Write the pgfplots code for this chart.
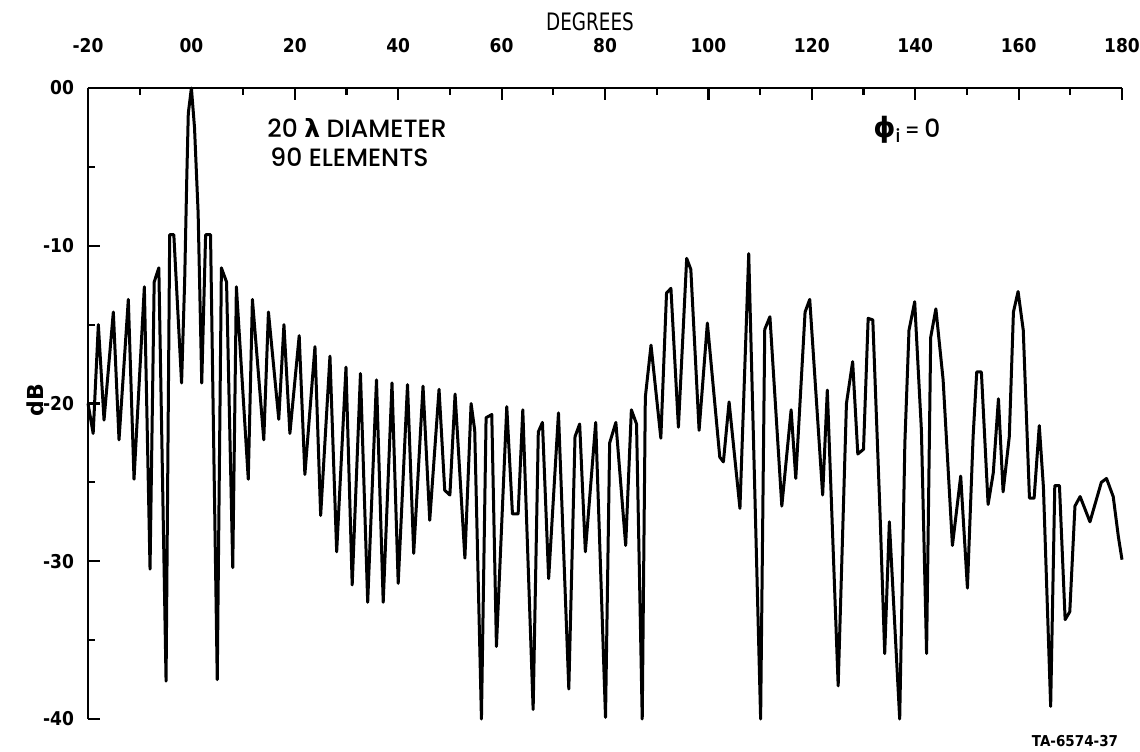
\documentclass[border=0pt]{standalone}
\usepackage{pgfplots}
\pgfplotsset{compat=1.18}
\usepackage{fontspec}
\setmainfont{DejaVu Sans}
\newfontfamily\condfont{DejaVu Sans Condensed}
\newfontfamily\annfont{Poppins Medium}
\newfontfamily\greekfont{DejaVu Sans}

\begin{document}
\begin{tikzpicture}
% 1 px of the reference = 0.5pt; axis box 1034 x 631 px
\useasboundingbox (-44pt,-16pt) rectangle (526pt,359.5pt);
\begin{axis}[
  at={(0pt,0pt)}, anchor=south west,
  scale only axis, width=517pt, height=315.5pt,
  xmin=-20, xmax=180, ymin=-40, ymax=0,
  axis x line=top, axis y line=left,
  axis line style={-, line width=1.4pt},
  tick align=inside,
  xtick={-20,0,...,180},
  xticklabels={-20,00,20,40,60,80,100,120,140,160,180},
  ytick={-40,-30,...,0},
  yticklabels={-40,-30,-20,-10,00},
  minor x tick num=1, minor y tick num=1,
  major tick length=6pt, minor tick length=3.5pt,
  every tick/.style={black, line width=1.1pt},
  tick label style={font=\condfont\bfseries\fontsize{9.5}{10}\selectfont},
  xticklabel style={yshift=14pt},
  yticklabel style={xshift=-3.5pt},
  clip=false,
]
\addplot[black, line width=1.5pt, line join=round, mark=none, sharp plot] coordinates {
(-20,-20.0) (-19.0,-21.9) (-18.0,-15.0) (-16.9,-21.05) (-15.1,-14.2)
(-14.0,-22.3) (-12.2,-13.4) (-11.1,-24.8) (-9.1,-12.6) (-8.0,-30.5)
(-7.2,-12.3) (-6.3,-11.4) (-4.9,-37.6) (-4.2,-9.3) (-3.4,-9.3)
(-1.9,-18.7) (-1.3,-12.2) (-0.9,-5.8) (-0.6,-1.6) (0.0,0)
(0.6,-2.5) (1.3,-7.9) (2.0,-18.7) (2.75,-9.3) (3.7,-9.3)
(5.0,-37.5) (5.8,-11.4) (6.8,-12.3) (8.0,-30.4) (8.7,-12.6)
(11.0,-24.8) (11.8,-13.4) (14.0,-22.3) (14.9,-14.2) (16.9,-21.0)
(17.9,-15.0) (19.05,-21.9) (20.85,-15.7) (21.95,-24.5) (23.9,-16.4)
(25.0,-27.1) (26.8,-17.0) (28.1,-29.4) (29.9,-17.7) (31.1,-31.5)
(32.7,-18.1) (34.1,-32.6) (35.8,-18.5) (37.1,-32.6) (38.8,-18.7)
(40.0,-31.4) (41.8,-18.8) (43.0,-29.5) (44.8,-18.9) (46.1,-27.4)
(47.9,-19.1) (49.0,-25.5) (50.0,-25.8) (51.0,-19.4) (52.9,-29.8)
(54.1,-20.0) (54.8,-21.7) (56.1,-40.0) (57.0,-20.9) (58.1,-20.7)
(59.0,-35.4) (61.0,-20.2) (62.1,-27.0) (63.2,-27.0) (64.1,-20.4)
(66.1,-39.4) (67.1,-21.8) (67.9,-21.2) (69.1,-31.1) (71.0,-20.6)
(73.0,-38.1) (74.2,-22.1) (75.1,-21.3) (76.2,-29.4) (78.2,-21.2)
(80.1,-39.9) (80.9,-22.5) (82.1,-21.2) (84.0,-29.0) (85.1,-20.4)
(86.1,-21.3) (87.2,-40.0) (87.8,-19.6) (88.9,-16.3) (90.8,-22.2)
(91.9,-13.0) (92.75,-12.7) (94.2,-21.5) (95.8,-10.8) (96.6,-11.5)
(98.2,-21.7) (99.8,-14.9) (102.2,-23.4) (102.9,-23.7) (104.0,-19.9)
(106.1,-26.65) (107.8,-10.5) (110.1,-40.0) (110.9,-15.3) (111.9,-14.5)
(114.2,-26.5) (116.0,-20.4) (116.9,-24.75) (118.7,-14.2) (119.6,-13.4)
(122.1,-25.8) (123.0,-19.15) (125.1,-37.9) (126.7,-20.0) (127.9,-17.35)
(128.9,-23.2) (130.0,-22.9) (130.9,-14.6) (131.8,-14.7) (133.2,-27.0)
(134.1,-35.85) (135.0,-27.5) (137.0,-40.0) (138.0,-22.5) (138.8,-15.35)
(139.9,-13.55) (141.2,-21.7) (142.2,-35.85) (143.0,-15.8) (144.0,-14.0)
(145.4,-18.5) (147.2,-29.0) (148.8,-24.6) (150.1,-31.7) (151.2,-22.1)
(151.9,-18.0) (152.8,-18.0) (154.1,-26.4) (155.1,-24.4) (156.1,-19.7)
(157.0,-25.6) (158.2,-22.1) (159.0,-14.2) (159.9,-12.9) (160.9,-15.35)
(162.1,-26.0) (163.0,-26.0) (164.0,-21.4) (164.8,-25.3) (166.2,-39.2)
(167.0,-25.2) (167.9,-25.2) (169.0,-33.7) (169.9,-33.2) (170.9,-26.5)
(171.9,-25.9) (173.8,-27.5) (176.0,-25.0) (177.0,-24.75) (178.3,-25.9)
(179.3,-28.45) (180.0,-29.9)
};
\end{axis}
% titles and notes
\node[font=\condfont\fontsize{12}{14}\selectfont, xscale=0.85] at (251pt,348.5pt) {DEGREES};
\node[font=\bfseries\fontsize{11}{12}\selectfont, rotate=90] at (-26.5pt,159.5pt) {dB};
\node[font=\annfont\fontsize{12.5}{14}\selectfont, anchor=west, inner sep=0pt] at (89.5pt,295.5pt) {20 {\greekfont\bfseries λ} DIAMETER};
\node[font=\annfont\fontsize{12.5}{14}\selectfont, anchor=west, inner sep=0pt] at (91pt,281pt) {90 ELEMENTS};
\node[font=\annfont\fontsize{12.5}{14}\selectfont, anchor=west, inner sep=0pt] at (392.5pt,294.5pt) {{\greekfont\bfseries\fontsize{14}{14}\selectfont ϕ}\raisebox{-0.35ex}{\fontsize{9}{9}\selectfont i}\,{\fontsize{10}{10}\selectfont =}\,0};
\node[font=\condfont\bfseries\fontsize{7.5}{9}\selectfont] at (493.5pt,-11pt) {TA-6574-37};
\end{tikzpicture}
\end{document}
